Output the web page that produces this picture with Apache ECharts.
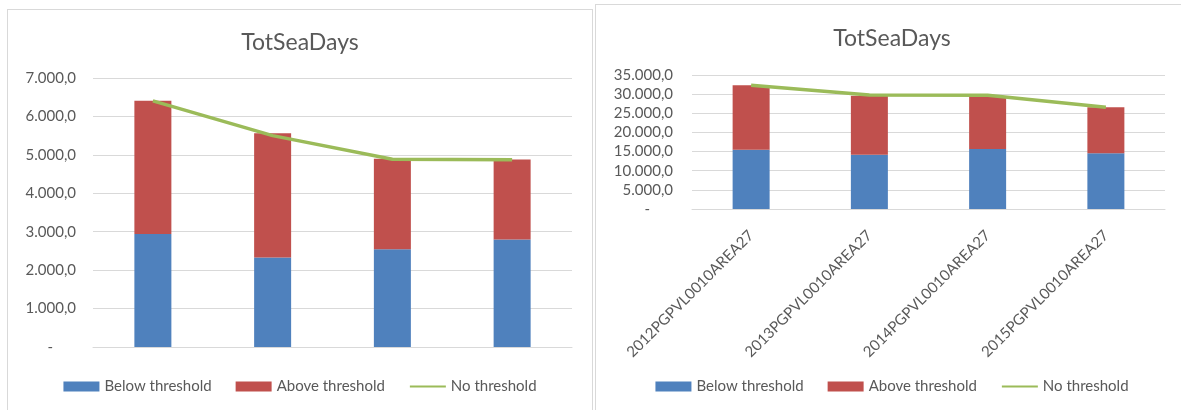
<!DOCTYPE html>
<html>
<head>
<meta charset="utf-8">
<script src="https://cdn.jsdelivr.net/npm/echarts@6/dist/echarts.min.js"></script>
<style>
  html, body { margin: 0; padding: 0; background: #fff; overflow: hidden; width: 1181px; height: 410px; }
  .box { position: absolute; border: 1px solid #d9d9d9; background: #fff; }
  #left { left: 7px; top: 9px; width: 584px; height: 410px; }
  #right { left: 595px; top: 4px; width: 592px; height: 410px; }
</style>
</head>
<body>
<div id="left" class="box"></div>
<div id="right" class="box"></div>
<script>
// categories (same trips for both panels, only the right one shows them)
const categories = ["2012PGPVL0010AREA27", "2013PGPVL0010AREA27", "2014PGPVL0010AREA27", "2015PGPVL0010AREA27"]
const seriesNames = ["Below threshold", "Above threshold", "No threshold"]

// left panel
const leftBelow = [2943, 2326, 2544, 2795]
const leftAbove = [3463, 3239, 2352, 2083]
const leftNone = [6406, 5500, 4887, 4870]
const leftTicks = { min: 0, max: 7000, step: 1000 }

// right panel
const rightBelow = [15480, 14180, 15660, 14540]
const rightAbove = [16820, 15400, 13840, 12010]
const rightNone = [32300, 29750, 29700, 26550]
const rightTicks = { min: 0, max: 35000, step: 5000 }

const FONT = "Lato"
const TEXT = "#595959"
const GRID = "#d9d9d9"

// excel style: 7.000,0 and a dash for zero
function fmt(v) {
  if (v === 0) return "-      "
  const s = String(Math.round(v)).replace(/\B(?=(\d{3})+(?!\d))/g, ".")
  return s + ",0"
}

function makeOption(cfg) {
  return {
    animation: false,
    color: ["#4F81BD", "#C0504D", "#9BBB59"],
    textStyle: { fontFamily: FONT, color: TEXT },
    title: {
      text: "TotSeaDays",
      left: "center",
      top: cfg.titleTop,
      textStyle: { fontFamily: FONT, fontSize: 23, fontWeight: "normal", color: TEXT }
    },
    legend: {
      bottom: cfg.legendBottom,
      left: "center",
      itemWidth: 36,
      itemHeight: 10,
      itemGap: 24,
      textStyle: { fontFamily: FONT, fontSize: 15, color: TEXT },
      data: [
        { name: seriesNames[0], icon: "rect" },
        { name: seriesNames[1], icon: "rect" },
        { name: seriesNames[2], itemStyle: { opacity: 0 } }
      ]
    },
    grid: cfg.grid,
    xAxis: {
      type: "category",
      data: categories,
      axisLine: { lineStyle: { color: GRID, width: 1 } },
      axisTick: { show: false },
      axisLabel: cfg.xLabel
    },
    yAxis: {
      type: "value",
      min: cfg.ticks.min,
      max: cfg.ticks.max,
      interval: cfg.ticks.step,
      axisLine: { show: false },
      axisTick: { show: false },
      splitLine: { lineStyle: { color: GRID, width: 1 } },
      axisLabel: { formatter: fmt, fontFamily: FONT, fontSize: 15, color: TEXT, margin: cfg.yMargin }
    },
    series: [
      { name: seriesNames[0], type: "bar", stack: "t", barWidth: 37, data: cfg.below },
      { name: seriesNames[1], type: "bar", stack: "t", barWidth: 37, data: cfg.above },
      {
        name: seriesNames[2], type: "line", data: cfg.none,
        symbol: "none", lineStyle: { width: 3.5, color: "#9BBB59" }
      }
    ]
  }
}

echarts.init(document.getElementById("left")).setOption(makeOption({
  titleTop: 16,
  legendBottom: 21,
  grid: { left: 85, width: 479, top: 68, height: 269 },
  ticks: leftTicks,
  yMargin: 17,
  xLabel: { show: false },
  below: leftBelow, above: leftAbove, none: leftNone
}))

echarts.init(document.getElementById("right")).setOption(makeOption({
  titleTop: 17,
  legendBottom: 16,
  grid: { left: 96, width: 473, top: 70, height: 134 },
  ticks: rightTicks,
  yMargin: 19,
  xLabel: { rotate: 45, fontFamily: FONT, fontSize: 15, color: TEXT, margin: 24, interval: 0 },
  below: rightBelow, above: rightAbove, none: rightNone
}))
</script>
</body>
</html>
